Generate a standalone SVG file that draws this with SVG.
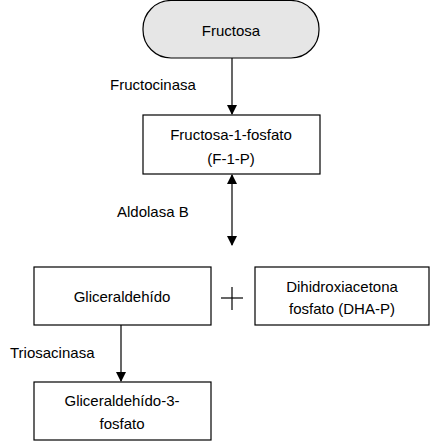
<svg xmlns="http://www.w3.org/2000/svg" width="431" height="441" viewBox="0 0 431 441">
<style>
.box{fill:#fff;stroke:#000;stroke-width:1.2}
.start{fill:#e6e6e6;stroke:#000;stroke-width:1.2}
text{font-family:"Liberation Sans",Arial,sans-serif;font-size:15px;fill:#000}
.c{text-anchor:middle}
.ln{stroke:#000;stroke-width:1.2;fill:none}
</style>
<defs>
<marker id="ah" markerWidth="10" markerHeight="12" refX="9" refY="5" orient="auto" markerUnits="userSpaceOnUse" viewBox="0 0 10 10">
<path d="M0,0 L10,5 L0,10 Z" fill="#000"/>
</marker>
<marker id="ahs" markerWidth="10" markerHeight="12" refX="1" refY="5" orient="auto" markerUnits="userSpaceOnUse" viewBox="0 0 10 10">
<path d="M10,0 L0,5 L10,10 Z" fill="#000"/>
</marker>
</defs>
<g id="connectors">
<line class="ln" x1="232" y1="58" x2="232" y2="114" marker-end="url(#ah)"/>
<line class="ln" x1="232" y1="175" x2="232" y2="245" marker-start="url(#ahs)" marker-end="url(#ah)"/>
<line class="ln" x1="121" y1="325" x2="121" y2="381" marker-end="url(#ah)"/>
</g>
<g id="labels">
<text x="110" y="90">Fructocinasa</text>
<text x="117" y="217">Aldolasa B</text>
<text x="10" y="358">Triosacinasa</text>
</g>
<g id="fructosa">
<rect class="start" x="143" y="0.5" width="176" height="57.5" rx="28" ry="28"/>
<text class="c" x="231" y="36">Fructosa</text>
</g>
<g id="f1p">
<rect class="box" x="143" y="115" width="177" height="59"/>
<text class="c" x="231" y="140">Fructosa-1-fosfato</text>
<text class="c" x="231" y="164">(F-1-P)</text>
</g>
<g id="gliceraldehido">
<rect class="box" x="34" y="267" width="177" height="58"/>
<text class="c" x="122" y="302">Gliceraldehído</text>
</g>
<g id="plus">
<line class="ln" x1="221" y1="298" x2="243" y2="298"/>
<line class="ln" x1="232" y1="287" x2="232" y2="310"/>
</g>
<g id="dhap">
<rect class="box" x="255" y="267" width="174" height="58"/>
<text class="c" x="342" y="292">Dihidroxiacetona</text>
<text class="c" x="342" y="314">fosfato (DHA-P)</text>
</g>
<g id="g3p">
<rect class="box" x="34" y="382" width="177" height="58"/>
<text class="c" x="122" y="406">Gliceraldehído-3-</text>
<text class="c" x="122" y="429">fosfato</text>
</g>
</svg>
